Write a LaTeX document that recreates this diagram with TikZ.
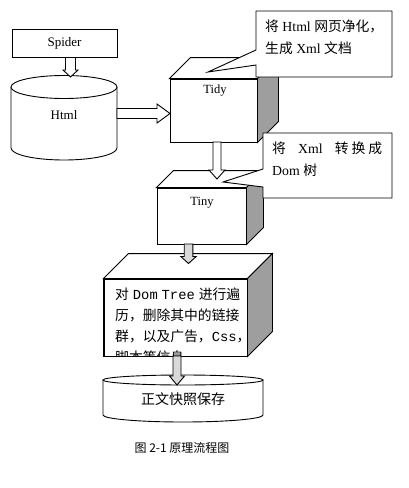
\documentclass[tikz,border=0pt]{standalone}
\usepackage{fontspec}
\setmainfont{Liberation Serif}
\newfontfamily\cjk{Noto Sans CJK SC}
\newfontfamily\monof{Liberation Mono}
\usetikzlibrary{calc}
\definecolor{sidegray}{gray}{0.62}
\definecolor{arrowgray}{gray}{0.85}
\tikzset{
  outline/.style={draw=black, line width=0.9pt, line join=miter},
  label13/.style={inner sep=0pt, font=\fontsize{13}{15}\selectfont},
  label125/.style={inner sep=0pt, font=\fontsize{12.5}{15}\selectfont},
  calltext/.style={inner sep=0pt, anchor=west, font=\fontsize{13.8}{16}\selectfont},
  boxtext/.style={inner sep=0pt, anchor=west, font=\fontsize{13.8}{16}\selectfont},
  frontface/.style={outline, fill=white, inner sep=0pt},
}
% vertical block arrow: #1 start, #2 tip, #3 half shaft, #4 half head, #5 head length, #6 fill
\newcommand\vblockarrow[6]{%
  \draw[outline, fill=#6] let \p1=(#1), \p2=(#2) in
    (\x2-#3,\y1) -- (\x2-#3,\y2+#5) -- (\x2-#4,\y2+#5) -- (\x2,\y2)
    -- (\x2+#4,\y2+#5) -- (\x2+#3,\y2+#5) -- (\x2+#3,\y1) -- cycle;}
% horizontal block arrow (to the right)
\newcommand\hblockarrow[6]{%
  \draw[outline, fill=#6] let \p1=(#1), \p2=(#2) in
    (\x1,\y2+#3) -- (\x2-#5,\y2+#3) -- (\x2-#5,\y2+#4) -- (\x2,\y2)
    -- (\x2-#5,\y2-#4) -- (\x2-#5,\y2-#3) -- (\x1,\y2-#3) -- cycle;}
% 3D box: name, cx, cy, w, h, depth
\newcommand\threedbox[6]{%
  \node[frontface, minimum width=#4pt, minimum height=#5pt] (#1) at (#2,#3) {};
  \draw[outline, fill=white] (#1.north west) -- ++(#6,-#6) -- ($(#1.north east)+(#6,-#6)$) -- (#1.north east) -- cycle;
  \draw[outline, fill=sidegray] (#1.north east) -- ++(#6,-#6) -- ($(#1.south east)+(#6,-#6)$) -- (#1.south east) -- cycle;}
\begin{document}
\begin{tikzpicture}[x=1pt, y=-1pt]
\useasboundingbox[fill=white] (0,0) rectangle (409,488);

% Spider
\node[frontface, label13, minimum width=105pt, minimum height=28pt] (spider) at (64.5,43) {Spider};

% Html cylinder
\fill[white] (11,87) -- (11,148) arc[start angle=180, end angle=0, x radius=53, y radius=12] -- (117,87) -- cycle;
\draw[outline] (11,87) -- (11,148) arc[start angle=180, end angle=0, x radius=53, y radius=12] -- (117,87);
\draw[outline, fill=white] (64,87) ellipse[x radius=53, y radius=11.5];
\node[label13] (html) at (64,115) {Html};
\coordinate (htmltop) at (70.5,77);
\coordinate (htmlright) at (117,113.5);

% Tidy box
\threedbox{tidy}{213.5}{110.5}{87}{63}{21}
\node[label125] (tidylabel) at (215,91) {Tidy};
\coordinate (tidyin) at (170,113.5);

% Tiny box
\threedbox{tiny}{201.5}{216}{89}{56}{17}
\node[label125] (tinylabel) at (202,203) {Tiny};

% DOM box
\threedbox{dombox}{175.5}{317.5}{143}{77}{25}
\node[boxtext] (l1) at (115,294) {\makebox[125pt][s]{{\cjk 对} {\monof Dom} {\monof Tree} {\cjk 进行遍}}};
\node[boxtext] (l2) at (115,315.5) {{\cjk 历，删除其中的链接}};
\node[boxtext] (l3) at (115,336.5) {{\cjk 群，以及广告，}{\monof Css}{\cjk ，}};
\begin{scope}
  \clip (dombox.north west) rectangle (dombox.south east);
  \node[boxtext] (l4) at (115,357.5) {{\cjk 脚本等信息}};
\end{scope}
\draw[outline] (dombox.north west) rectangle (dombox.south east);

% bottom cylinder
\fill[white] (103,380) -- (103,415) arc[start angle=180, end angle=0, x radius=80, y radius=7] -- (263,380) -- cycle;
\draw[outline] (103,380) -- (103,415) arc[start angle=180, end angle=0, x radius=80, y radius=7] -- (263,380);
\draw[outline, fill=white] (183,380) ellipse[x radius=80, y radius=5];
\node[inner sep=0pt, font=\fontsize{14}{16}\selectfont\cjk] (save) at (183,399) {正文快照保存};
\coordinate (savetop) at (177,385);

% block arrows
\vblockarrow{spider.south}{htmltop}{5}{7.5}{7}{white}
\hblockarrow{htmlright}{tidyin}{5}{9.5}{13}{white}
\coordinate (tidyout) at (217,142);
\coordinate (tinyin) at (217,179);
\vblockarrow{tidyout}{tinyin}{4}{8}{9}{white}
\coordinate (tinyout) at (188.5,244);
\coordinate (domin) at (188.5,263.5);
\vblockarrow{tinyout}{domin}{4.3}{7.7}{7}{arrowgray}
\coordinate (domout) at (177,356);
\vblockarrow{domout}{savetop}{4}{7.5}{9}{arrowgray}

% callouts
\draw[outline, fill=white] (256,11) -- (392,11) -- (392,77) -- (256,77) -- (256,65) -- (208,72) -- (256,50) -- cycle;
\node[calltext] (c1a) at (265,26) {{\cjk 将} Html {\cjk 网页净化，}};
\node[calltext] (c1b) at (265,48) {{\cjk 生成} Xml {\cjk 文档}};

\draw[outline, fill=white] (263,133) -- (392,133) -- (392,198) -- (263,198) -- (263,187) -- (223,182) -- (263,169) -- cycle;
\node[calltext] (c2a) at (272,148) {\makebox[110pt][l]{{\cjk 将}\hfill Xml\hfill{\cjk 转}\hspace{3pt}{\cjk 换}\hspace{3pt}{\cjk 成}}};
\node[calltext] (c2b) at (272,170) {Dom {\cjk 树}};

% caption
\node[inner sep=0pt, font=\fontsize{12}{14}\selectfont\cjk] (caption) at (182,448) {图 2-1 原理流程图};
\end{tikzpicture}
\end{document}
